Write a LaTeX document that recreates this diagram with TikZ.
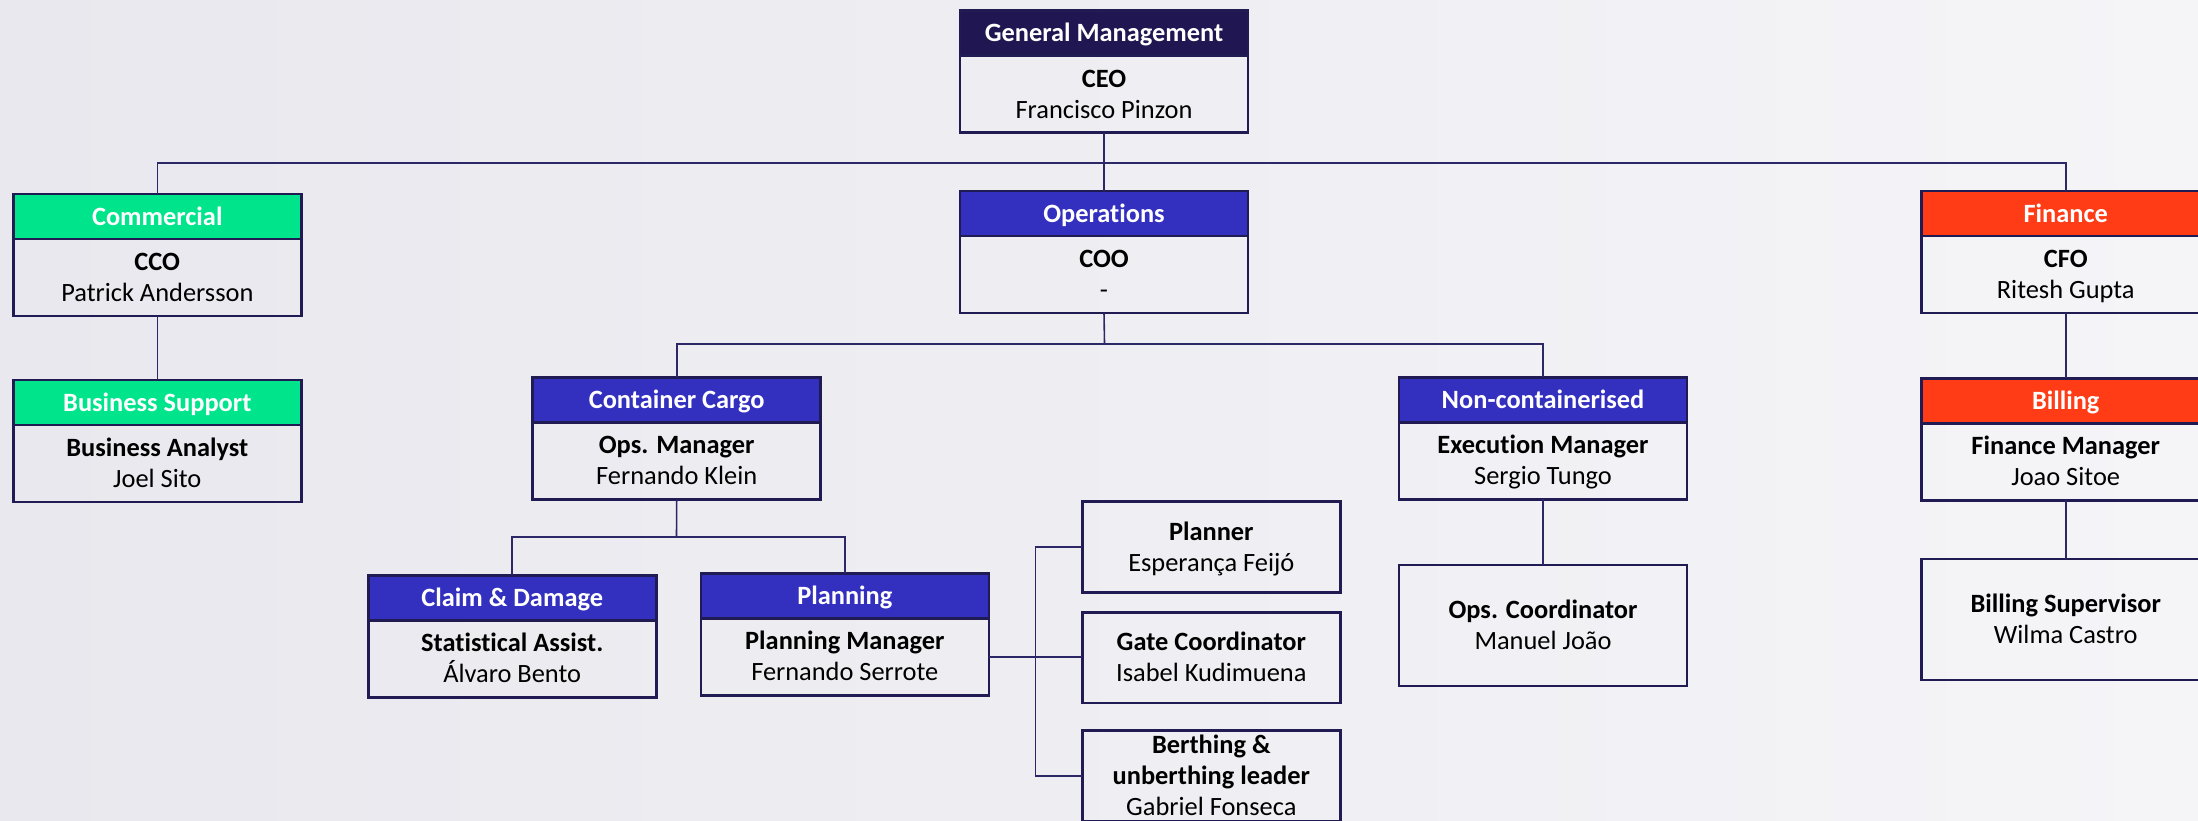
\documentclass[tikz,border=0pt]{standalone}
\usepackage{fontspec}
\setmainfont{Carlito}[Ligatures=NoCommon]
\definecolor{navy}{HTML}{211B54}
\definecolor{gmcol}{HTML}{1F1652}
\definecolor{opscol}{HTML}{3330C0}
\definecolor{comcol}{HTML}{00E48C}
\definecolor{fincol}{HTML}{FF3C16}
\definecolor{conncol}{HTML}{2C2766}
\definecolor{bgL}{HTML}{E8E8EE}
\definecolor{bgR}{HTML}{F5F4F7}
\begin{document}
\begin{tikzpicture}[x=0.5pt,y=-0.5pt,
  boxbase/.style={draw=navy, line width=1.3pt, inner sep=0pt, outer sep=0pt,
    anchor=north west, minimum width=144pt},
  hdr/.style={boxbase, minimum height=22.5pt, text height=8.5pt, text depth=0pt,
    font=\bfseries\fontsize{13.2pt}{15.5pt}\selectfont, text=white},
  body/.style={boxbase, minimum height=38.5pt, align=center, text=black,
    text height=24pt, text depth=0pt, font=\fontsize{13.2pt}{15.5pt}\selectfont},
  single/.style={body, minimum height=60.5pt},
  small/.style={body, minimum width=129pt, minimum height=45.3pt},
  conn/.style={draw=conncol, line width=0.8pt}]
\useasboundingbox (0,0) rectangle (2198,820);
\clip (0,0) rectangle (2198,820);
\shade[left color=bgL, right color=bgR] (0,0) rectangle (2198,820);

% General management
\node[hdr, fill=gmcol] (ceoH) at (960,10.7) {General Management};
\node[body] (ceoB) at (ceoH.south west) {{\bfseries CEO}\\Francisco Pinzon};
% Commercial
\node[hdr, fill=comcol] (comH) at (13.3,194) {Commercial};
\node[body] (comB) at (comH.south west) {{\bfseries CCO}\\Patrick Andersson};
\node[hdr, fill=comcol] (bsH) at (13.3,380) {Business Support};
\node[body] (bsB) at (bsH.south west) {{\bfseries Business Analyst}\\Joel Sito};
% Operations
\node[hdr, fill=opscol] (opsH) at (960,191) {Operations};
\node[body] (opsB) at (opsH.south west) {{\bfseries COO}\\-};
\node[hdr, fill=opscol] (ccH) at (532.7,377.3) {Container Cargo};
\node[body] (ccB) at (ccH.south west) {{\bfseries Ops. Manager}\\Fernando Klein};
\node[hdr, fill=opscol] (ncH) at (1399,377.3) {Non-containerised};
\node[body] (ncB) at (ncH.south west) {{\bfseries Execution Manager}\\Sergio Tungo};
\node[single] (oc) at (1399,565) {{\bfseries Ops. Coordinator}\\Manuel João};
\node[hdr, fill=opscol] (cdH) at (368.2,575.3) {Claim \& Damage};
\node[body] (cdB) at (cdH.south west) {{\bfseries Statistical Assist.}\\Álvaro Bento};
\node[hdr, fill=opscol] (plH) at (700.8,573.3) {Planning};
\node[body] (plB) at (plH.south west) {{\bfseries Planning Manager}\\Fernando Serrote};
\node[small] (planner) at (1082.3,501.7) {{\bfseries Planner}\\Esperança Feijó};
\node[small] (gate) at (1082.3,612.3) {{\bfseries Gate Coordinator}\\Isabel Kudimuena};
\node[small, text height=39.5pt] (berth) at (1082.3,730.7) {{\bfseries Berthing \&}\\{\bfseries unberthing leader}\\Gabriel Fonseca};
% Finance
\node[hdr, fill=fincol] (finH) at (1921.7,191) {Finance};
\node[body] (finB) at (finH.south west) {{\bfseries CFO}\\Ritesh Gupta};
\node[hdr, fill=fincol] (biH) at (1921.7,378.3) {Billing};
\node[body] (biB) at (biH.south west) {{\bfseries Finance Manager}\\Joao Sitoe};
\node[single] (bsup) at (1921.7,559) {{\bfseries Billing Supervisor}\\Wilma Castro};

% connectors
\coordinate (bus1) at (1104.5,163);
\coordinate (bus2) at (1104.5,344);
\coordinate (bus3) at (676.5,536.7);
\coordinate (bus4) at (1035.3,656.7);
\draw[conn] (ceoB.south) -- (opsH.north);
\draw[conn] (comH.north) |- (bus1) -| (finH.north);
\draw[conn] (comB.south) -- (bsH.north);
\draw[conn] (opsB.south) -- (bus2);
\draw[conn] (ccH.north) |- (bus2) -| (ncH.north);
\draw[conn] (ccB.south) -- (bus3);
\draw[conn] (cdH.north) |- (bus3) -| (plH.north);
\draw[conn] (ncB.south) -- (oc.north);
\draw[conn] (finB.south) -- (biH.north);
\draw[conn] (biB.south) -- (bsup.north);
\draw[conn] (plB.east) -- (plB.east -| gate.west);
\draw[conn] (planner.west) -| (bus4) |- (berth.west);
\end{tikzpicture}
\end{document}
